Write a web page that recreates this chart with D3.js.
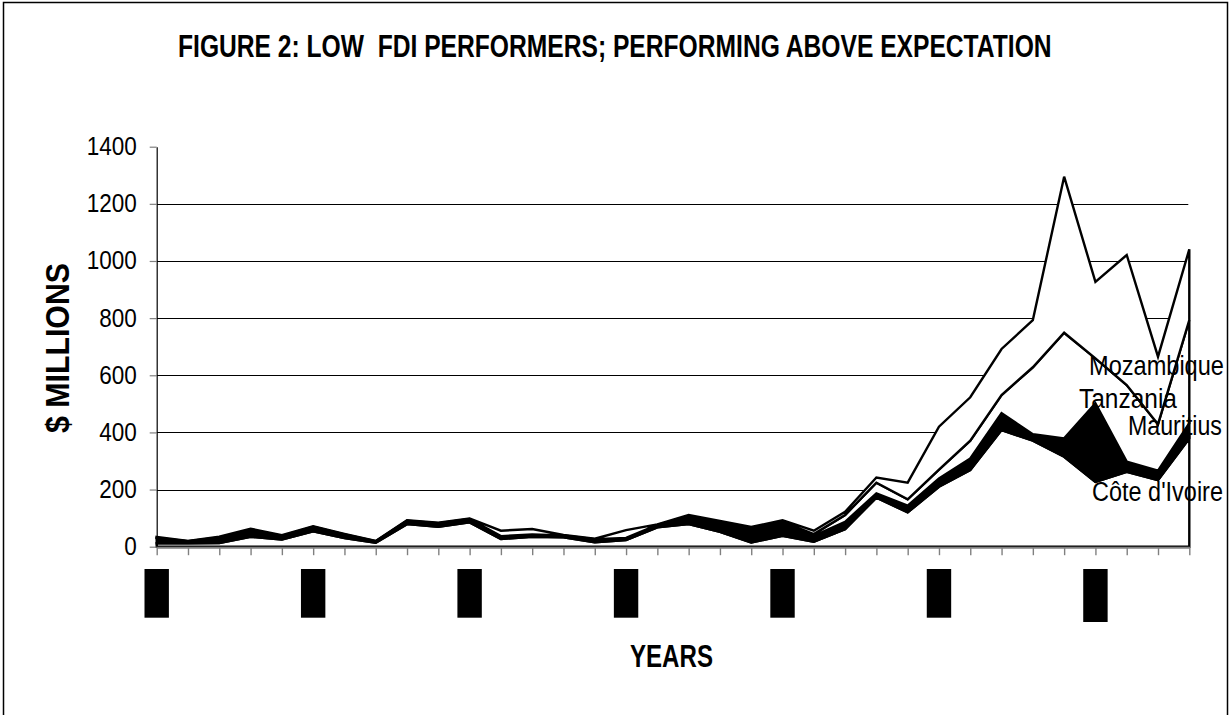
<!DOCTYPE html>
<html><head><meta charset="utf-8">
<script src="https://cdn.jsdelivr.net/npm/d3@7/dist/d3.min.js"></script>
<style>
html,body{margin:0;padding:0;background:#fff;}
svg{display:block;font-family:"Liberation Sans",Arial,sans-serif;}
</style></head><body>
<svg id="chart" width="1231" height="715"></svg>
<script>
// ---------------- data ----------------
const years = [1970,1971,1972,1973,1974,1975,1976,1977,1978,1979,1980,1981,1982,1983,1984,1985,1986,1987,1988,1989,1990,1991,1992,1993,1994,1995,1996,1997,1998,1999,2000,2001,2002,2003];
const coteDIvoire = [12,12,13,35,25,54,30,14,79,70,85,27,35,33,15,23,68,79,52,15,38,17,61,172,120,210,268,408,371,315,227,262,233,379];
const mauritius   = [18,6,18,24,12,15,12,4,11,11,11,8,6,5,10,6,6,22,28,42,43,21,26,15,24,29,41,59,23,64,275,36,33,53];
const mozambique  = [1,1,1,1,1,1,1,1,1,1,1,2,2,1,1,2,2,4,4,4,6,6,24,37,22,31,62,64,234,370,157,268,163,361];
const tanzania    = [3,1,3,3,2,2,2,1,2,2,2,19,19,2,2,27,2,6,6,8,6,12,11,18,58,150,152,161,165,546,268,455,236,248];
const seriesKeys  = ["Côte d'Ivoire","Mauritius","Mozambique","Tanzania"];
const seriesFill  = ["#ffffff","#000000","#ffffff","#ffffff"];
const yTickValues = [0,200,400,600,800,1000,1200,1400];
const yearLabels  = [1970,1975,1980,1985,1990,1995,2000];
const titleText   = "FIGURE 2: LOW  FDI PERFORMERS; PERFORMING ABOVE EXPECTATION";
const yTitle      = "$ MILLIONS";
const xTitle      = "YEARS";
// series labels as shown on the chart (text, left x, baseline y, width)
const seriesLabels = [
  {text:"Mozambique",    x:1089, y:375, w:135},
  {text:"Tanzania",      x:1079, y:408, w:98},
  {text:"Mauritius",     x:1128, y:435, w:94},
  {text:"Côte d'Ivoire", x:1092, y:501, w:131}
];

// ---------------- layout ----------------
const svg = d3.select("#chart");
const L = 156.7, R = 1189.3, T = 146.7, B = 546.7;

const rows = years.map((yr,i)=>({year:yr,
  "Côte d'Ivoire":coteDIvoire[i], "Mauritius":mauritius[i],
  "Mozambique":mozambique[i], "Tanzania":tanzania[i]}));

const x = d3.scalePoint().domain(years).range([L,R]);
const y = d3.scaleLinear().domain([0,1400]).range([B,T]);

// helper: text whose advance width is targetW and whose glyph height looks like font size `vis`
function narrowText(parent, str, targetW, vis, weight, baseTransform, anchor){
  const g = parent.append("g").attr("transform", baseTransform);
  const t = g.append("text").attr("font-size", vis).attr("font-weight", weight||"normal")
    .attr("text-anchor", anchor||"start").style("white-space","pre").text(str);
  const nat = t.node().getComputedTextLength();
  const fs = vis * targetW / nat;
  t.attr("font-size", fs).attr("transform", `scale(1,${vis/fs})`);
  return t;
}

// outer frame
svg.append("rect").attr("x",3.5).attr("y",2.5).attr("width",1224).attr("height",740)
  .attr("fill","none").attr("stroke","#000").attr("stroke-width",1.5);

// gridlines
svg.append("g").selectAll("line").data(yTickValues.filter(v=>v>0 && v<1400)).join("line")
  .attr("x1",L).attr("x2",R-1).attr("y1",d=>Math.round(y(d))+0.5).attr("y2",d=>Math.round(y(d))+0.5)
  .attr("stroke","#000").attr("stroke-width",1);

// stacked areas
const stack = d3.stack().keys(seriesKeys);
const layers = stack(rows);
const area = d3.area().x(d=>x(d.data.year)).y0(d=>y(d[0])).y1(d=>y(d[1]));
svg.append("g").selectAll("path").data(layers).join("path")
  .attr("d",area)
  .attr("fill",(d,i)=>seriesFill[i])
  .attr("stroke","#000").attr("stroke-width",2.4).attr("stroke-linejoin","miter");

// y axis
const yAxis = d3.axisLeft(y).tickValues(yTickValues).tickFormat(d3.format("d"))
  .tickSize(7).tickSizeOuter(0).tickPadding(13);
const gy = svg.append("g").attr("transform",`translate(${L},0)`).call(yAxis);
gy.select(".domain").attr("stroke","#000").attr("stroke-width",1.2);
gy.selectAll(".tick line").attr("stroke","#808080").attr("stroke-width",1.2);
gy.selectAll(".tick text").attr("font-size",25).attr("fill","#000")
  .attr("font-family","'Liberation Sans',Arial,sans-serif")
  .each(function(){const w=this.getComputedTextLength();
    d3.select(this).attr("textLength",w*0.9).attr("lengthAdjust","spacingAndGlyphs");});

// x axis
const xAxis = d3.axisBottom(x).tickSize(8).tickSizeOuter(0).tickFormat("");
const gx = svg.append("g").attr("transform",`translate(0,${B+0.5})`).call(xAxis);
gx.select(".domain").attr("stroke","#808080").attr("stroke-width",2);
gx.selectAll(".tick line").attr("stroke","#808080").attr("stroke-width",1.4);

// year labels (rendered as solid blocks as in the reference)
const yl = svg.append("g").selectAll("g").data(yearLabels).join("g")
  .attr("transform",d=>`translate(${x(d)},569)`);
yl.append("rect").attr("x",-12.2).attr("y",0).attr("width",24.4)
  .attr("height",(d,i)=> i===yearLabels.length-1 ? 53 : 48.7).attr("fill","#000");
yl.append("text").attr("transform","translate(8,46) rotate(-90)")
  .attr("font-size",20).attr("fill","#000").text(d=>d);

// title
narrowText(svg, titleText, 874, 31, "bold", "translate(178,56.5)");

// y title
narrowText(svg, yTitle, 170, 33, "bold", "translate(69,348) rotate(-90)", "middle");

// x title
narrowText(svg, xTitle, 83, 32, "bold", "translate(630,667)");

// series labels
seriesLabels.forEach(d => narrowText(svg, d.text, d.w, 28, "normal", `translate(${d.x},${d.y})`));
</script>
</body></html>
